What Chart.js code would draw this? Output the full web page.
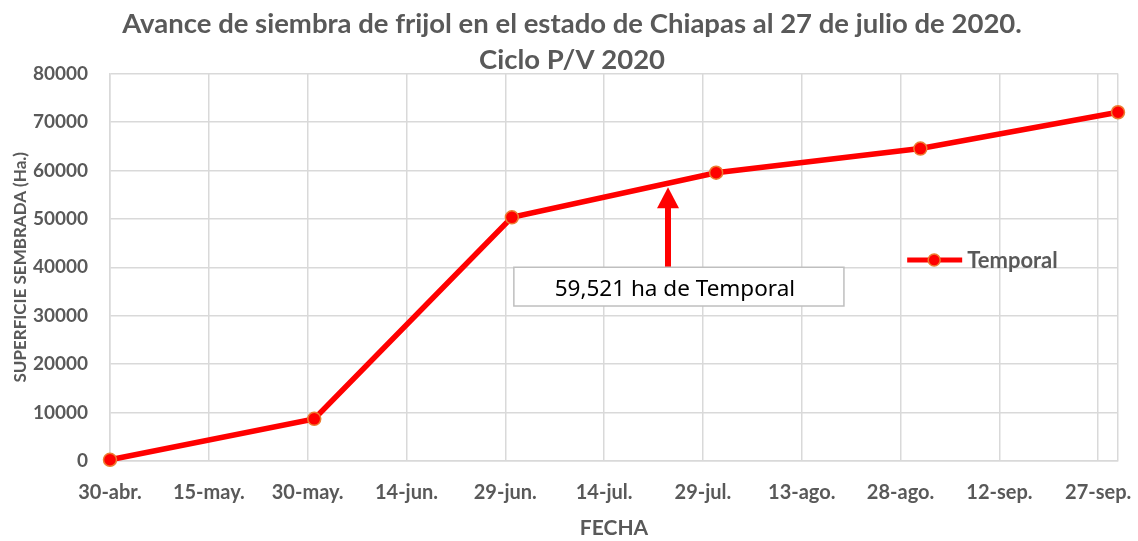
<!DOCTYPE html>
<html>
<head>
<meta charset="utf-8">
<script src="https://cdn.jsdelivr.net/npm/chart.js@4.4.1/dist/chart.umd.min.js"></script>
<style>
  html, body { margin: 0; padding: 0; background: #fff; }
  #wrap { width: 1138px; height: 541px; }
</style>
</head>
<body>
<div id="wrap"><canvas id="avance"></canvas></div>
<script>
// DATA
const fechas = ['2020-04-30', '2020-05-31', '2020-06-30', '2020-07-31', '2020-08-31', '2020-09-30'];
const temporal = [250, 8700, 50300, 59521, 64500, 72000];
const tickLabels = ['30-abr.', '15-may.', '30-may.', '14-jun.', '29-jun.', '14-jul.',
                    '29-jul.', '13-ago.', '28-ago.', '12-sep.', '27-sep.'];
const inicio = '2020-04-30';
const fin = '2020-09-30';
const nota = '59,521 ha de Temporal';

const GRIS = '#595959';
const DIA = 86400000;
function dias(f) {
    return Math.round((Date.parse(f) - Date.parse(inicio)) / DIA);
}
const puntos = fechas.map((f, i) => ({ x: dias(f), y: temporal[i] }));
const tickDias = tickLabels.map((t, i) => i * 15);

// arrow + box + legend drawn in chart space
const extras = {
    id: 'extras',
    afterDatasetsDraw(chart) {
        const c = chart.ctx, x = chart.scales.x, y = chart.scales.y;

        // arrow
        const ax = x.getPixelForValue(84.7);
        const tip = y.getPixelForValue(56500);
        const base = y.getPixelForValue(40000);
        c.save();
        c.strokeStyle = '#FF0000';
        c.fillStyle = '#FF0000';
        c.lineWidth = 6;
        c.beginPath();
        c.moveTo(ax, base);
        c.lineTo(ax, tip + 18);
        c.stroke();
        c.beginPath();
        c.moveTo(ax, tip);
        c.lineTo(ax - 11, tip + 21);
        c.lineTo(ax + 11, tip + 21);
        c.closePath();
        c.fill();

        // box
        const bx1 = x.getPixelForValue(61.3), bx2 = x.getPixelForValue(111.4);
        const by1 = y.getPixelForValue(40000), by2 = y.getPixelForValue(32000);
        c.fillStyle = '#fff';
        c.fillRect(bx1, by1, bx2 - bx1, by2 - by1);
        c.strokeStyle = '#BFBFBF';
        c.lineWidth = 1.5;
        c.strokeRect(bx1, by1, bx2 - bx1, by2 - by1);
        c.fillStyle = '#000';
        c.font = '22.5px "Noto Sans"';
        c.textAlign = 'center';
        c.textBaseline = 'middle';
        c.fillText(nota, (bx1 + bx2) / 2 - 4, (by1 + by2) / 2 + 3);

        // legend
        const lx = x.getPixelForValue(121), ly = y.getPixelForValue(41500);
        c.strokeStyle = '#FF0000';
        c.lineWidth = 5;
        c.beginPath();
        c.moveTo(lx, ly);
        c.lineTo(lx + 55, ly);
        c.stroke();
        c.beginPath();
        c.arc(lx + 27, ly, 6, 0, Math.PI * 2);
        c.fillStyle = '#FF0000';
        c.fill();
        c.strokeStyle = '#ED7D31';
        c.lineWidth = 1.5;
        c.stroke();
        c.fillStyle = GRIS;
        c.font = 'bold 22px Lato';
        c.textAlign = 'left';
        c.fillText('Temporal', lx + 60, ly + 1);
        c.restore();
    }
};

new Chart(document.getElementById('avance'), {
    type: 'line',
    data: {
        datasets: [{
            label: 'Temporal',
            data: puntos,
            borderColor: '#FF0000',
            borderWidth: 5.5,
            pointRadius: 6.5,
            pointBackgroundColor: '#FF0000',
            pointBorderColor: '#ED7D31',
            pointBorderWidth: 1.5,
            tension: 0,
            clip: false
        }]
    },
    options: {
        responsive: true,
        maintainAspectRatio: false,
        animation: false,
        layout: { padding: { left: 10, right: 4, top: 0, bottom: 0 } },
        plugins: {
            legend: { display: false },
            tooltip: { enabled: false },
            title: {
                display: true,
                text: ['Avance de siembra de frijol en el estado de Chiapas al 27 de julio de 2020.', 'Ciclo P/V 2020'],
                color: GRIS,
                font: { family: 'Lato', size: 27.5, weight: 'bold', lineHeight: 1.3 },
                padding: { top: 6, bottom: -4 }
            }
        },
        scales: {
            x: {
                type: 'linear',
                min: 0,
                max: dias(fin),
                afterBuildTicks: s => {
                    s.ticks = tickDias.concat([dias(fin)]).map(v => ({ value: v }));
                },
                afterFit: s => { s.height = 80; },
                grid: { color: '#D9D9D9', lineWidth: 1.5, drawTicks: false },
                border: { color: '#D9D9D9', width: 1.5 },
                ticks: {
                    color: GRIS,
                    padding: 20,
                    maxRotation: 0,
                    autoSkip: false,
                    font: { family: 'Lato', size: 20, weight: 'bold' },
                    callback: v => {
                        const i = tickDias.indexOf(v);
                        return i >= 0 ? tickLabels[i] : '';
                    }
                },
                title: {
                    display: true,
                    text: 'FECHA',
                    color: GRIS,
                    font: { family: 'Lato', size: 21, weight: 'bold' },
                    padding: { top: 0, bottom: 0 }
                }
            },
            y: {
                min: 0,
                max: 80000,
                afterFit: s => { s.width = 100; },
                grid: { color: '#D9D9D9', lineWidth: 1.5, drawTicks: false },
                border: { color: '#D9D9D9', width: 1.5 },
                ticks: {
                    stepSize: 10000,
                    color: GRIS,
                    padding: 22,
                    font: { family: 'Lato', size: 19, weight: 'bold' },
                    callback: v => String(v)
                },
                title: {
                    display: true,
                    text: 'SUPERFICIE SEMBRADA (Ha.)',
                    color: GRIS,
                    font: { family: 'Lato', size: 17, weight: 'bold' },
                    padding: { top: 0, bottom: 0 }
                }
            },
            y2: {
                position: 'right',
                min: 0,
                max: 80000,
                afterFit: s => { s.width = 16; },
                grid: { display: false },
                border: { display: false },
                ticks: { display: false }
            }
        }
    },
    plugins: [extras]
});
</script>
</body>
</html>
